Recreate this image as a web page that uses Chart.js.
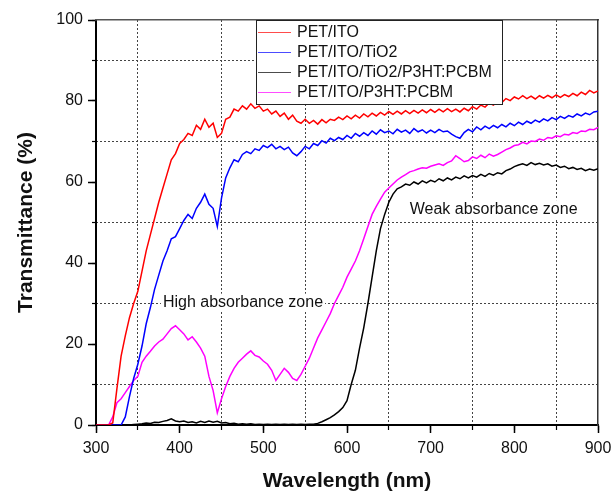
<!DOCTYPE html>
<html>
<head>
<meta charset="utf-8">
<script src="https://cdn.jsdelivr.net/npm/chart.js@4.4.1/dist/chart.umd.min.js"></script>
<style>
  html, body { margin: 0; padding: 0; background: #ffffff; }
  #wrap { width: 613px; height: 491px; position: relative; }
</style>
</head>
<body>
<div id="wrap"><canvas id="c" width="613" height="491"></canvas></div>
<script>
// ---- data ----
const wavelengths = [
  300,305,310,315,320,325,330,335,340,345,
  350,355,360,365,370,375,380,385,390,395,
  400,405,410,415,420,425,430,435,440,445,
  450,455,460,465,470,475,480,485,490,495,
  500,505,510,515,520,525,530,535,540,545,
  550,555,560,565,570,575,580,585,590,595,
  600,605,610,615,620,625,630,635,640,645,
  650,655,660,665,670,675,680,685,690,695,
  700,705,710,715,720,725,730,735,740,745,
  750,755,760,765,770,775,780,785,790,795,
  800,805,810,815,820,825,830,835,840,845,
  850,855,860,865,870,875,880,885,890,895,
  900
];
const petIto = [
  0,0,0,0,0.5,9,17,22,26.5,30,
  33,38,43,47,51,55,58.5,62,65.5,67,
  69.5,70.5,72,71.5,74,73,75.5,73.5,74.5,71,
  72,75.5,76,78,77.5,78.8,78,79.3,78.2,78.8,
  77.5,78,76.8,77.5,76.2,77,75.5,76.5,75,74.5,
  75.5,74.5,75.2,74.3,75.4,74.6,75.5,75.2,76,75.4,
  76.3,75.6,76.5,75.8,76.8,76.1,77,76.3,77.2,76.5,
  77.4,76.7,77.5,76.8,77.6,76.9,77.7,77,77.8,77.1,
  77.9,77.2,78,77.3,78.1,77.4,78,77.3,78.2,77.6,
  78.6,78,79,78.5,79.5,79,80,79.6,80.6,80.1,
  81,80.5,81.3,80.6,81.2,80.5,81.3,80.7,81.4,80.8,
  81.5,80.9,81.6,81.1,81.9,81.3,82.2,81.6,82.6,82,
  82.5
];
const petItoTiO2 = [
  0,0,0,0,0,0,0,2,7,11.5,
  15,19.5,25,29,33.5,37,40.5,43,46,46.5,
  48.5,50.5,52,51,53.5,55,57,54.5,53.5,49,
  56,61,63.5,65.5,65,66.8,67.5,67,68.2,67.8,
  69,68.5,69.3,68.2,68.8,68,68.6,67.2,66.5,67.5,
  68.8,68.2,69.5,69,70.2,69.6,70.8,70.2,71,70.5,
  71.5,70.8,72,71.3,72.2,71.5,72.6,71.8,72.9,72.2,
  72.6,71.9,73,72.3,72.8,72,73.2,72.4,72.9,72.1,
  72.8,72.2,73,72.4,72.6,71.8,71.2,70.8,72.2,73,
  72.4,73.6,72.9,73.8,73.2,74,73.4,74.2,73.6,74.5,
  73.9,74.8,74.2,75,74.5,75.3,74.8,75.6,75.1,75.9,
  75.4,76.2,75.7,76.4,76,76.8,76.3,77,76.6,77.3,
  77.5
];
const petItoTiO2P3ht = [
  0,0,0,0,0,0,0,0,0,0.1,
  0.2,0.3,0.5,0.4,0.7,0.6,0.9,1.1,1.5,1.0,
  0.8,1.0,0.6,0.8,0.5,0.9,0.6,1.0,0.7,0.9,
  0.5,0.6,0.3,0.4,0.2,0.3,0.2,0.3,0.1,0.2,
  0.1,0.2,0.1,0.2,0.1,0.2,0.1,0.2,0.1,0.2,
  0.1,0.2,0.2,0.4,0.8,1.3,1.8,2.5,3.3,4.3,
  6,10,13.5,19,24,30,36.5,43,48.5,52,
  55,57,58.3,58.8,59.5,59.2,60,59.5,60.3,59.8,
  60.4,60,60.8,60.3,61,60.5,61.2,60.8,61.5,61,
  61.6,61.2,61.9,61.4,62.1,61.7,62.3,62,62.8,63.2,
  63.8,64.2,64.5,64.1,64.8,64.3,64.6,64.2,64.5,63.9,
  64.2,63.6,63.9,63.3,63.6,63.1,63.4,62.8,63.2,62.9,
  63.3
];
const petItoP3ht = [
  0,0,0,0,2,5.5,6.5,8,9.5,11,
  12,15.5,17,18.2,19.5,20.5,21.2,22.5,23.8,24.5,
  23.5,22.5,21,21.8,20.5,19,17,12,8.5,3,
  6.5,9.5,12,14,15.5,16.5,17.5,18.3,17.2,16.8,
  15.8,15,13.5,11,12.5,14,13,11.5,11,12.5,
  14.5,16.5,19,21.5,23.5,25.5,27.5,30,32,34,
  36.5,38.5,40.5,43,46,49,52,54,55.8,57.5,
  58.5,59.5,60.5,61.2,61.8,62.5,62.8,63.2,63.5,63.4,
  63.9,64.2,64.5,64.1,64.8,65.2,66.5,65.8,65,65.3,
  66.2,65.8,66.6,66,66.9,66.4,66.8,67.4,68,68.4,
  69,69.2,69.8,69.4,70.1,70,70.6,70.3,71,70.8,
  71.4,71.2,71.8,71.6,72.2,72,72.6,72.5,73,72.9,
  73.5
];
const seriesLabels = ['PET/ITO', 'PET/ITO/TiO2', 'PET/ITO/TiO2/P3HT:PCBM', 'PET/ITO/P3HT:PCBM'];
const seriesColors = ['#ff0000', '#0000ff', '#000000', '#ff00ff'];
const xTicks = [300, 400, 500, 600, 700, 800, 900];
const yTicks = [0, 20, 40, 60, 80, 100];
const annotations = [
  { text: 'High absorbance zone', x: 380, y: 30.2 },
  { text: 'Weak absorbance zone', x: 675, y: 53.3 }
];

// ---- build ----
const allSeries = [petIto, petItoTiO2, petItoTiO2P3ht, petItoP3ht];
const datasets = allSeries.map((vals, k) => ({
  label: seriesLabels[k],
  data: wavelengths.map((w, i) => ({ x: w, y: vals[i] })),
  borderColor: seriesColors[k],
  backgroundColor: seriesColors[k],
  borderWidth: 1.5,
  pointRadius: 0,
  tension: 0,
  xAxisID: 'x',
  yAxisID: 'y'
}));

const FONT = '"Liberation Sans", Arial, sans-serif';

const overlayPlugin = {
  id: 'overlay',
  afterDatasetsDraw(chart) {
    const ctx = chart.ctx;
    const xs = chart.scales.x, ys = chart.scales.y;
    ctx.save();
    // annotations
    ctx.font = '16px ' + FONT;
    ctx.textBaseline = 'middle';
    ctx.textAlign = 'left';
    annotations.forEach(a => {
      const px = xs.getPixelForValue(a.x), py = ys.getPixelForValue(a.y);
      const w = ctx.measureText(a.text).width;
      ctx.fillStyle = '#ffffff';
      ctx.fillRect(px - 2, py - 9, w + 4, 18);
      ctx.fillStyle = '#111';
      ctx.fillText(a.text, px, py);
    });
    // legend box
    const bx = 256.5, by = 20.5, bw = 246, bh = 84;
    ctx.fillStyle = '#ffffff';
    ctx.fillRect(bx, by, bw, bh);
    ctx.strokeStyle = '#222';
    ctx.lineWidth = 1;
    ctx.strokeRect(bx, by, bw, bh);
    chart.data.datasets.forEach((ds, i) => {
      const yy = 32 + i * 20;
      ctx.strokeStyle = ds.borderColor;
      ctx.globalAlpha = 0.7;
      ctx.lineWidth = 1;
      ctx.beginPath();
      ctx.moveTo(258, yy + 0.5);
      ctx.lineTo(291, yy + 0.5);
      ctx.stroke();
      ctx.globalAlpha = 1;
      ctx.fillStyle = '#111';
      ctx.font = '16px ' + FONT;
      ctx.textBaseline = 'middle';
      ctx.fillText(ds.label, 297, yy + 1);
    });
    ctx.restore();
  }
};

const noSidePad = s => { s.paddingLeft = 0; s.paddingRight = 0; };

new Chart(document.getElementById('c'), {
  type: 'line',
  data: { datasets },
  plugins: [overlayPlugin],
  options: {
    responsive: false,
    animation: false,
    devicePixelRatio: 1,
    layout: { padding: { left: 0, right: 15, top: 20, bottom: 0 } },
    plugins: { legend: { display: false }, tooltip: { enabled: false } },
    scales: {
      x: {
        type: 'linear', position: 'bottom', weight: 1,
        min: 300, max: 900,
        afterBuildTicks: s => { s.ticks = xTicks.map(v => ({ value: v })); },
        afterFit: s => { s.height = 66; noSidePad(s); },
        ticks: { color: '#111', font: { family: FONT, size: 16 }, padding: 6, maxRotation: 0, autoSkip: false },
        grid: { drawOnChartArea: false, tickLength: 8, tickColor: '#000', tickWidth: 1.5 },
        border: { display: true, color: '#000', width: 2 },
        title: { display: true, text: 'Wavelength (nm)', color: '#111',
                 font: { family: FONT, size: 21, weight: 'bold', lineHeight: 0.9 }, padding: { top: 0, bottom: 0 } }
      },
      xMinor: {
        type: 'linear', position: 'bottom', weight: 0,
        min: 300, max: 900,
        ticks: { display: false, stepSize: 50, autoSkip: false },
        afterFit: s => { s.height = 0; noSidePad(s); },
        grid: {
          drawOnChartArea: true, tickLength: 5, tickColor: '#000', tickWidth: 1.2, lineWidth: 1,
          color: c => (c.tick && c.tick.value % 100 !== 0) ? '#444' : 'rgba(0,0,0,0)'
        },
        border: { display: false, dash: [2, 2] }
      },
      y: {
        type: 'linear', position: 'left', weight: 1,
        min: 0, max: 100,
        afterBuildTicks: s => { s.ticks = yTicks.map(v => ({ value: v })); },
        afterFit: s => { s.width = 96; },
        ticks: { color: '#111', font: { family: FONT, size: 16 }, padding: 5, autoSkip: false },
        grid: { drawOnChartArea: false, tickLength: 8, tickColor: '#000', tickWidth: 1.5 },
        border: { display: true, color: '#000', width: 2 },
        title: { display: true, text: 'Transmittance (%)', color: '#111',
                 font: { family: FONT, size: 21, weight: 'bold', lineHeight: 1 }, padding: { top: 16, bottom: 0 } }
      },
      yMinor: {
        type: 'linear', position: 'left', weight: 0,
        min: 0, max: 100,
        ticks: { display: false, stepSize: 10, autoSkip: false },
        afterFit: s => { s.width = 0; },
        grid: {
          drawOnChartArea: true, tickLength: 4, tickColor: '#000', tickWidth: 1.2, lineWidth: 1,
          color: c => (c.tick && c.tick.value % 20 !== 0) ? '#444' : 'rgba(0,0,0,0)'
        },
        border: { display: false, dash: [2, 2] }
      },
      xTop: {
        type: 'linear', position: 'top', min: 300, max: 900,
        ticks: { display: false },
        afterFit: s => { s.height = 0; noSidePad(s); },
        grid: { drawOnChartArea: false, drawTicks: false },
        border: { display: true, color: '#555', width: 1.5 }
      },
      yRight: {
        type: 'linear', position: 'right', min: 0, max: 100,
        ticks: { display: false },
        afterFit: s => { s.width = 0; },
        grid: { drawOnChartArea: false, drawTicks: false },
        border: { display: true, color: '#333', width: 1.5 }
      }
    }
  }
});
</script>
</body>
</html>
